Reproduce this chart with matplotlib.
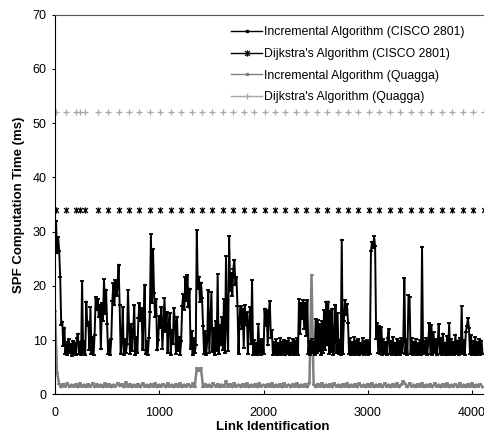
import matplotlib
matplotlib.use('Agg')
import matplotlib.pyplot as plt
from matplotlib.lines import Line2D
from matplotlib.path import Path
import numpy as np

plt.rcParams['font.family'] = ['Liberation Sans', 'DejaVu Sans']

# link ids for the incremental CISCO series (one sample every 10 links)
cisco_links = np.arange(0, 4101, 10)
cisco_inc_ms = [
    28.5, 32.0, 26.0, 29.0, 26.5, 21.6, 12.8, 13.4, 8.9, 12.3, 7.4, 9.6, 7.2, 10.1, 7.6, 9.3, 7.1, 9.9, 7.5, 9.4,
    7.3, 10.4, 11.2, 7.4, 9.7, 7.2, 20.8, 7.6, 9.8, 7.3, 17.1, 12.6, 13.4, 8.1, 16.0, 7.5, 10.6, 7.2, 11.0, 17.9,
    15.5, 17.6, 14.2, 16.5, 8.3, 16.8, 13.5, 21.2, 14.8, 19.3, 12.9, 7.4, 9.8, 7.3, 10.2, 17.2, 20.5, 16.4, 21.0, 18.2,
    19.8, 23.9, 16.5, 7.5, 9.6, 16.0, 7.3, 10.1, 7.6, 9.2, 19.2, 12.4, 7.4, 13.0, 8.0, 11.6, 16.4, 7.2, 10.5, 7.6,
    14.0, 16.8, 13.5, 15.9, 8.2, 14.6, 20.2, 7.4, 9.9, 7.3, 10.3, 15.2, 29.5, 16.8, 26.8, 18.6, 14.3, 17.5, 8.1, 10.0,
    14.5, 12.2, 16.0, 8.4, 13.0, 17.7, 11.5, 15.2, 7.6, 12.8, 14.9, 7.3, 11.9, 9.2, 15.9, 13.4, 7.5, 14.3, 8.0, 10.6,
    7.3, 9.8, 16.3, 18.4, 15.6, 21.6, 17.2, 22.0, 16.0, 19.5, 8.4, 11.7, 7.2, 10.4, 7.6, 9.1, 30.3, 19.4, 21.7, 17.1,
    20.6, 17.8, 12.5, 7.4, 11.6, 7.3, 9.9, 19.2, 7.6, 13.0, 18.9, 7.8, 12.2, 7.2, 13.5, 8.0, 22.1, 7.4, 12.8, 9.0,
    14.2, 8.2, 17.5, 7.6, 25.4, 12.4, 8.0, 29.2, 19.0, 22.4, 18.2, 23.1, 24.8, 20.1, 21.6, 16.3, 7.5, 13.9, 16.2, 12.0,
    15.8, 8.6, 16.5, 12.7, 15.1, 7.4, 13.3, 16.0, 9.2, 21.1, 7.3, 10.0, 7.5, 9.5, 7.2, 13.0, 7.6, 9.8, 7.3, 10.2,
    7.4, 15.8, 12.6, 15.5, 9.0, 14.8, 17.2, 10.4, 11.8, 7.3, 9.7, 7.6, 10.1, 7.2, 9.4, 7.5, 10.3, 7.3, 9.6, 7.7,
    10.0, 7.2, 9.8, 7.5, 10.4, 7.3, 9.5, 7.6, 10.2, 7.2, 9.9, 7.4, 10.3, 7.3, 17.5, 11.2, 16.8, 13.9, 17.4, 12.1,
    16.9, 10.8, 17.3, 7.5, 9.8, 7.3, 10.1, 7.6, 9.7, 7.2, 13.8, 7.6, 13.7, 8.0, 12.9, 7.3, 13.5, 7.7, 15.5, 8.2,
    17.1, 9.0, 17.1, 7.4, 15.3, 7.8, 15.8, 7.3, 10.2, 16.5, 7.6, 15.0, 7.4, 10.0, 7.3, 28.5, 7.5, 13.5, 17.4, 14.6,
    16.7, 13.2, 7.4, 10.3, 7.2, 9.6, 7.5, 10.5, 7.3, 9.9, 7.6, 10.1, 7.2, 9.4, 7.5, 10.4, 7.3, 9.8, 7.6, 10.0,
    7.3, 9.7, 7.5, 26.4, 28.1, 26.9, 29.1, 27.3, 10.2, 13.1, 7.6, 12.5, 7.4, 12.4, 7.3, 10.1, 7.5, 9.6, 7.2, 10.4,
    12.0, 7.4, 9.8, 7.3, 10.6, 7.6, 9.5, 7.2, 10.2, 7.5, 9.9, 7.3, 10.3, 7.6, 9.6, 21.4, 7.4, 10.1, 7.3, 18.3,
    18.0, 7.5, 10.4, 7.2, 9.7, 7.6, 10.2, 7.3, 9.4, 7.5, 10.0, 7.3, 27.2, 7.4, 9.9, 7.6, 10.3, 7.2, 9.8, 13.1,
    7.5, 12.8, 7.3, 11.4, 7.6, 10.1, 7.2, 9.7, 13.0, 7.4, 10.4, 7.3, 11.2, 7.6, 9.5, 7.2, 10.8, 7.5, 13.1, 7.3,
    10.2, 7.6, 9.6, 7.3, 11.0, 7.5, 9.9, 7.2, 10.4, 7.4, 16.2, 7.6, 10.0, 7.3, 11.5, 12.6, 14.0, 12.2, 7.4, 10.9,
    7.3, 9.8, 7.5, 10.5, 7.2, 9.6, 7.6, 10.2, 7.3, 9.9, 7.5,
]

# incremental Quagga series (one sample every 20 links)
quagga_links = np.arange(0, 4101, 20)
quagga_inc_ms = [
    15.4, 4.0, 1.9, 1.3, 1.9, 1.4, 2.0, 1.3, 1.8, 1.4, 1.9, 1.3, 2.0, 1.4, 1.8, 1.3, 1.9, 1.4, 2.0, 1.3,
    1.9, 1.4, 1.8, 1.3, 2.0, 1.4, 1.9, 1.3, 1.8, 1.4, 2.1, 1.5, 1.9, 1.3, 2.2, 1.4, 1.9, 1.3, 1.8, 1.4,
    1.9, 1.3, 2.0, 1.4, 1.8, 1.3, 1.9, 1.4, 2.0, 1.3, 1.8, 1.4, 1.9, 1.3, 2.0, 1.4, 1.8, 1.3, 1.9, 1.4,
    2.0, 1.3, 1.8, 1.4, 1.9, 1.3, 2.0, 1.4, 4.8, 4.3, 4.8, 1.3, 1.9, 1.4, 1.8, 1.3, 2.0, 1.4, 1.9, 1.3,
    1.8, 1.4, 2.4, 1.4, 1.9, 1.3, 2.0, 1.4, 1.8, 1.3, 1.9, 1.4, 2.0, 1.3, 1.8, 1.4, 1.9, 1.3, 2.0, 1.4,
    1.8, 1.3, 1.9, 1.4, 2.0, 1.3, 1.8, 1.4, 1.9, 1.3, 2.0, 1.4, 1.8, 1.3, 1.9, 1.4, 2.0, 1.3, 1.8, 1.4,
    1.9, 1.3, 2.0, 22.0, 1.8, 1.3, 1.9, 1.4, 2.0, 1.3, 1.8, 1.4, 1.9, 1.3, 2.0, 1.4, 1.8, 1.3, 1.9, 1.4,
    2.0, 1.3, 1.8, 1.4, 1.9, 1.3, 2.0, 1.4, 1.8, 1.3, 1.9, 1.4, 2.0, 1.3, 1.8, 1.4, 1.9, 1.3, 2.0, 1.4,
    1.8, 1.3, 1.9, 1.4, 2.0, 1.3, 1.8, 2.4, 1.9, 1.3, 2.0, 1.4, 1.8, 1.3, 1.9, 1.4, 2.0, 1.3, 1.8, 1.4,
    1.9, 1.3, 2.0, 1.4, 1.8, 1.3, 1.9, 1.4, 2.0, 1.3, 1.8, 1.4, 1.9, 1.3, 2.0, 1.4, 1.8, 1.3, 1.9, 1.4,
    2.0, 1.3, 1.8, 1.4, 1.9, 1.3,
]

# Dijkstra runs are sampled on a sparser set of links
dijkstra_links = [10, 110, 200, 240, 290] + list(range(410, 4200, 100))
dijkstra_cisco_ms = [34.0] * len(dijkstra_links)
dijkstra_quagga_ms = [52.0] * len(dijkstra_links)

labels = ['Incremental Algorithm (CISCO 2801)', "Dijkstra's Algorithm (CISCO 2801)",
          'Incremental Algorithm (Quagga)', "Dijkstra's Algorithm (Quagga)"]

star = Path([(-1, -1), (1, 1), (-1, 1), (1, -1), (0, -1.3), (0, 1.3)],
            [Path.MOVETO, Path.LINETO, Path.MOVETO, Path.LINETO, Path.MOVETO, Path.LINETO])

fig = plt.figure(figsize=(4.84, 4.34), dpi=100)
ax = fig.add_axes([0.1136, 0.0915, 0.948, 0.875])

ax.plot(quagga_links, quagga_inc_ms, color='#808080', lw=1.8, marker='_', ms=2.5, mew=1.2)
ax.plot(cisco_links, cisco_inc_ms, color='black', lw=1.4, marker='_', ms=3, mew=1.3)
ax.plot(dijkstra_links, dijkstra_cisco_ms, ls='none', marker=star, ms=4.5,
        mec='black', mfc='none', mew=0.9)
ax.plot(dijkstra_links, dijkstra_quagga_ms, ls='none', marker='+', ms=5,
        mec='#a6a6a6', mew=0.9)

ax.set_xlim(0, 4400)
ax.set_ylim(0, 70)
ax.set_xticks(np.arange(0, 4001, 1000))
ax.set_yticks(np.arange(0, 71, 10))
ax.tick_params(axis='x', direction='in', length=3, pad=9, labelsize=9)
ax.tick_params(axis='y', direction='out', length=2.5, labelsize=9)
ax.spines['top'].set_color('#555555')
ax.spines['right'].set_visible(False)

ax.set_xlabel('Link Identification', fontsize=9.5, fontweight='bold')
ax.xaxis.set_label_coords(0.475, -0.07)
ax.set_ylabel('SPF Computation Time (ms)', fontsize=9.5, fontweight='bold')
ax.yaxis.set_label_coords(-0.065, 0.5)

handles = [
    Line2D([], [], color='black', lw=1, marker='s', ms=1.5),
    Line2D([], [], color='black', lw=1, marker=star, ms=4.5, mec='black', mfc='none', mew=0.9),
    Line2D([], [], color='#808080', lw=1, marker='s', ms=1.5),
    Line2D([], [], color='#a6a6a6', lw=1, marker='+', ms=5, mew=0.9),
]
fig.legend(handles, labels, loc='upper left', bbox_to_anchor=(0.478, 0.940),
           frameon=False, fontsize=8.8, handlelength=2.5, handletextpad=0.15,
           labelspacing=0.8, borderpad=0, borderaxespad=0)

fig.savefig('out.png', dpi=100)
